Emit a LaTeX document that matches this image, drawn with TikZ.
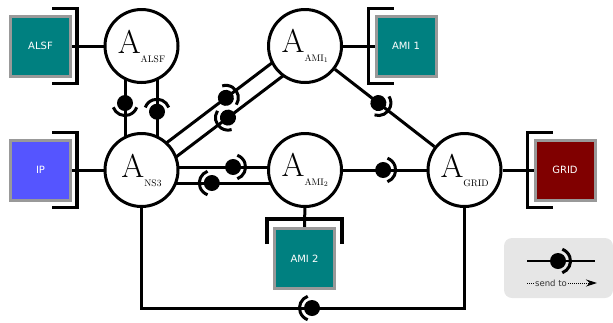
\documentclass[tikz,border=0pt]{standalone}
\usepackage{fontspec}
\newfontfamily\boxfont{DejaVu Sans}
\usetikzlibrary{arrows.meta,positioning,backgrounds,calc}
\definecolor{simteal}{RGB}{0,128,128}
\definecolor{simblue}{RGB}{85,85,255}
\definecolor{simred}{RGB}{128,0,0}
\definecolor{simgrey}{RGB}{153,153,153}
\definecolor{simlegend}{RGB}{230,230,230}
\newcommand{\agt}[1]{{\fontsize{33}{33}\selectfont A}\raisebox{-9pt}{\fontsize{9.5}{9.5}\selectfont #1}}
\tikzset{
  agent/.style={circle, draw, line width=3pt, fill=white, minimum size=73pt, inner sep=0pt},
  simbox/.style={rectangle, draw=simgrey, line width=3pt, minimum size=60pt, inner sep=0pt,
                 text=white, font=\boxfont\fontsize{10}{10}\selectfont},
  brk/.style={line width=3.5pt},
  link/.style={line width=3pt},
  sock/.pic={\fill (0,0) circle (8); \draw[line width=3pt] (-70:12.5) arc (-70:70:12.5);},
}

\begin{document}
\begin{tikzpicture}[x=1pt, y=1pt]
            \useasboundingbox (0,0) rectangle (613,-322);
            \node[agent] (aalsf) at (141.5,-46) {\agt{ALSF}};
            \node[agent] (ans3) at (141.5,-170) {\agt{NS3}};
            \node[agent] (aami1) at (305,-46) {\agt{AMI$_1$}};
            \node[agent] (aami2) at (305,-170) {\agt{AMI$_2$}};
            \node[agent] (agrid) at (464.5,-170) {\agt{GRID}};
            \node[simbox, fill=simteal] (alsf) at (40.5,-46) {ALSF};
            \node[simbox, fill=simblue] (ip) at (40.5,-170) {IP};
            \node[simbox, fill=simteal] (ami1) at (406,-46) {AMI 1};
            \node[simbox, fill=simteal] (ami2) at (304.5,-258.5) {AMI 2};
            \node[simbox, fill=simred] (grid) at (565,-170) {GRID};
            \foreach \b in {alsf,ip}
              \draw[brk] ([xshift=-20pt,yshift=6pt]\b.north east) -| ([xshift=5pt,yshift=-6pt]\b.south east) -- ++(-25,0);
            \foreach \b in {ami1,grid}
              \draw[brk] ([xshift=19pt,yshift=6pt]\b.north west) -| ([xshift=-6pt,yshift=-6pt]\b.south west) -- ++(25,0);
            \draw[brk] ([xshift=-6pt,yshift=-17pt]ami2.north west) |- ([xshift=6pt,yshift=8pt]ami2.north east) -- ++(0,-25);
            \coordinate (loop) at (312,-308);
            \coordinate (u1) at ($(ans3)!6.5pt!90:(aami1)$);
            \coordinate (u2) at ($(aami1)!6.5pt!-90:(ans3)$);
            \coordinate (l1) at ($(ans3)!10.5pt!-90:(aami1)$);
            \coordinate (l2) at ($(aami1)!10.5pt!90:(ans3)$);
            \begin{scope}[on background layer]
              \draw[link] (alsf) -- (aalsf); \draw[link] (ip) -- (ans3); \draw[link] (ami1) -- (aami1);
              \draw[link] (ami2) -- (aami2); \draw[link] (grid) -- (agrid);
              \draw[link] ([xshift=-16.5pt]aalsf.center) -- ([xshift=-16.5pt]ans3.center);
              \draw[link] ([xshift=15.5pt]aalsf.center) -- ([xshift=15.5pt]ans3.center);
              \draw[link] (u1) -- (u2); \draw[link] (l1) -- (l2);
              \draw[link] ([yshift=3pt]ans3.center) -- ([yshift=3pt]aami2.center);
              \draw[link] ([yshift=-13pt]ans3.center) -- ([yshift=-13pt]aami2.center);
              \draw[link] (aami1) -- (agrid); \draw[link] (aami2) -- (agrid);
              \draw[link] (ans3) |- (loop) -| (agrid);
            \end{scope}
            \pic[rotate=-90] at ($([xshift=-16.5pt]aalsf.center)!0.46!([xshift=-16.5pt]ans3.center)$) {sock};
            \pic[rotate=90] at ($([xshift=15.5pt]aalsf.center)!0.53!([xshift=15.5pt]ans3.center)$) {sock};
            \pic[rotate=37] at ($(u1)!0.54!(u2)$) {sock};
            \pic[rotate=217] at ($(l1)!0.49!(l2)$) {sock};
            \pic at ($([yshift=3pt]ans3.center)!0.56!([yshift=3pt]aami2.center)$) {sock};
            \pic[rotate=180] at ($([yshift=-13pt]ans3.center)!0.43!([yshift=-13pt]aami2.center)$) {sock};
            \pic[rotate=-38] at ($(aami1)!0.46!(agrid)$) {sock};
            \pic at ($(aami2)!0.49!(agrid)$) {sock};
            \pic[rotate=180] at (loop) {sock};
            \fill[simlegend, rounded corners=8pt] (504,-238) rectangle (613,-298);
            \coordinate (lga) at (527,-261); \coordinate (lgb) at (595,-261);
            \draw[line width=2.5pt] (lga) -- (lgb);
            \pic at (558,-261) {sock};
            \node[font=\boxfont\fontsize{8.5}{8.5}\selectfont, text=black!80, inner sep=1pt] (lgtxt) at (551,-283) {send to};
            \coordinate (lgs) at (527,-283); \coordinate (lge) at (597,-283);
            \draw[densely dotted, line width=1pt] (lgs) -- (lgtxt.west);
            \draw[densely dotted, line width=1pt, -{Stealth[length=11pt,width=7pt]}] (lgtxt.east) -- (lge);
        \end{tikzpicture}
\end{document}
